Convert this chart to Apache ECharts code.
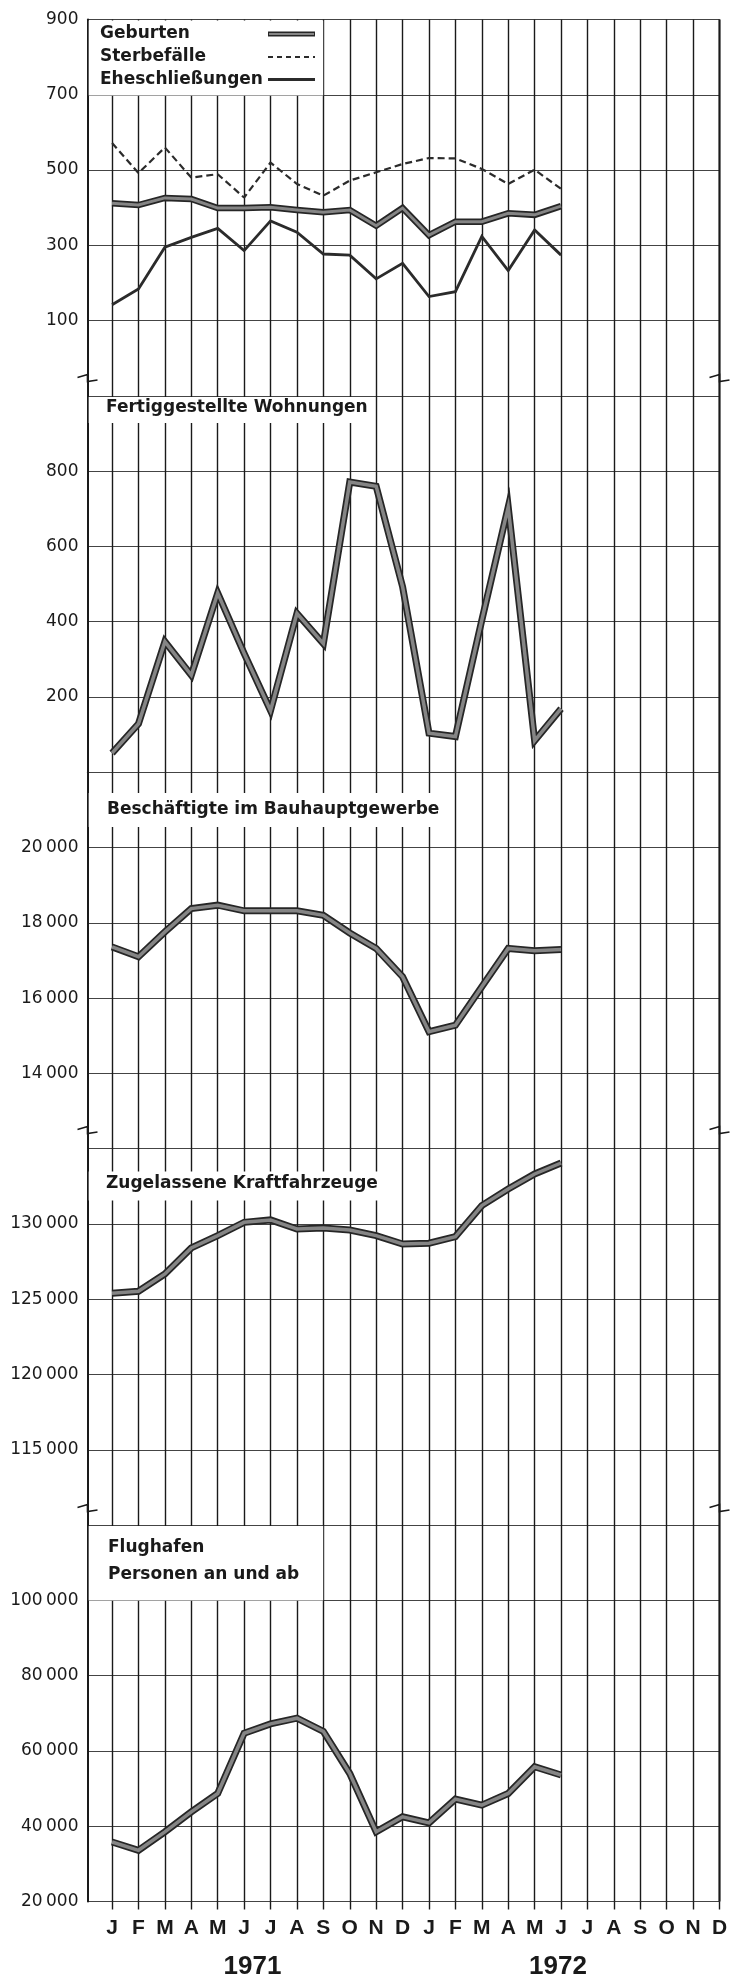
<!DOCTYPE html>
<html>
<head>
<meta charset="utf-8">
<title>Monatszahlen 1971/1972</title>
<script src="https://cdn.jsdelivr.net/npm/echarts@6/dist/echarts.min.js"></script>
<style>
  html, body { margin: 0; padding: 0; background: #fff; }
  #chart { width: 738px; height: 1982px; }
</style>
</head>
<body>
<div id="chart"></div>
<script>
// Monate Jan 1971 - Dez 1972
const monthLabels = ['J','F','M','A','M','J','J','A','S','O','N','D','J','F','M','A','M','J','J','A','S','O','N','D']
const years = ['1971', '1972']

// Werte Jan 1971 - Jun 1972
const geburten = [412, 407, 426, 423, 399, 399, 401, 394, 388, 394, 352, 399, 327, 363, 363, 385, 381, 404]
const sterbefaelle = [572, 492, 560, 480, 489, 427, 520, 463, 432, 472, 494, 516, 532, 531, 503, 463, 501, 450]
const eheschliessungen = [142, 184, 295, 321, 345, 286, 365, 335, 277, 274, 211, 252, 164, 177, 324, 233, 341, 274]
const wohnungen = [51, 129, 347, 258, 476, 316, 164, 422, 342, 771, 760, 493, 104, 95, 404, 705, 84, 169]
const beschaeftigte = [17360, 17100, 17760, 18380, 18470, 18320, 18320, 18320, 18200, 17730, 17320, 16570, 15110, 15280, 16300, 17320, 17260, 17290]
const kraftfahrzeuge = [125400, 125530, 126680, 128410, 129230, 130110, 130270, 129670, 129740, 129600, 129230, 128670, 128720, 129160, 131220, 132320, 133320, 134050]
const flughafen = [35800, 33600, 38500, 43800, 48700, 64700, 67200, 68700, 65200, 54000, 38500, 42500, 40900, 47200, 45600, 48700, 55800, 53600]

// Gitterlinien und Beschriftungen der y-Achsen
const ticks1 = [-100, 100, 300, 500, 700, 900]
const labels1 = [100, 300, 500, 700, 900]
const ticks2 = [0, 200, 400, 600, 800, 1000]
const labels2 = [200, 400, 600, 800]
const ticks3 = [12000, 14000, 16000, 18000, 20000, 22000]
const labels3 = [14000, 16000, 18000, 20000]
const ticks4 = [110000, 115000, 120000, 125000, 130000, 135000]
const labels4 = [115000, 120000, 125000, 130000]
const ticks5 = [20000, 40000, 60000, 80000, 100000, 120000]
const labels5 = [20000, 40000, 60000, 80000, 100000]

const chart = echarts.init(document.getElementById('chart'))

const TOP = 19.5
const H = 376.4
const LEFT = 87.5
const WIDTH = 632
const XMIN = -0.93
const INK = '#1a1a1a'

const panels = [
  { ticks: ticks1, labels: labels1 },
  { ticks: ticks2, labels: labels2 },
  { ticks: ticks3, labels: labels3 },
  { ticks: ticks4, labels: labels4 },
  { ticks: ticks5, labels: labels5 }
]
const monthIdx = monthLabels.map((m, i) => i)

function fmt(v) {
  const s = String(v)
  return s.length > 4 ? s.slice(0, -3) + '\u2009' + s.slice(-3) : s
}
function pts(arr) {
  return arr.map((v, i) => [i, v])
}
// dicke Linie mit dunklem Rand
function outlined(arr, k, w) {
  return [
    { type: 'line', xAxisIndex: k, yAxisIndex: k, data: pts(arr), symbol: 'none', silent: true, z: 3,
      lineStyle: { color: '#262626', width: w, join: 'miter' } },
    { type: 'line', xAxisIndex: k, yAxisIndex: k, data: pts(arr), symbol: 'none', silent: true, z: 4,
      lineStyle: { color: '#858585', width: w - 3.5, join: 'miter' } }
  ]
}

const grid = panels.map((p, k) => ({ left: LEFT, width: WIDTH, top: TOP + k * H, height: H }))

const xAxis = panels.map((p, k) => ({
  gridIndex: k, type: 'value', min: XMIN, max: 23,
  axisLine: { show: false },
  axisTick: { show: k === 4, customValues: monthIdx, length: 8, lineStyle: { color: INK, width: 1.4 } },
  axisLabel: { show: k === 4, customValues: monthIdx, formatter: v => monthLabels[Math.round(v)], margin: 16,
    fontFamily: 'Liberation Sans', fontWeight: 'bold', fontSize: 21, color: INK },
  splitLine: { show: true, lineStyle: { color: INK, width: 1.4 } }
}))

const yAxis = panels.map((p, k) => ({
  gridIndex: k, type: 'value', min: p.ticks[0], max: p.ticks[p.ticks.length - 1],
  axisLine: { show: true, onZero: false, lineStyle: { color: INK, width: 2 } },
  axisTick: { show: false, customValues: p.ticks },
  axisLabel: { customValues: p.labels, formatter: fmt, margin: 9, fontFamily: 'DejaVu Sans', fontSize: 17, color: INK },
  splitLine: { show: true, lineStyle: { color: '#444', width: 1.2 } }
}))

const series = [
  ...outlined(geburten, 0, 6.5),
  { type: 'line', name: 'Sterbefälle', xAxisIndex: 0, yAxisIndex: 0, data: pts(sterbefaelle), symbol: 'none', silent: true, z: 3,
    lineStyle: { color: '#2b2b2b', width: 2.2, type: [7, 4] } },
  { type: 'line', name: 'Eheschließungen', xAxisIndex: 0, yAxisIndex: 0, data: pts(eheschliessungen), symbol: 'none', silent: true, z: 3,
    lineStyle: { color: '#2b2b2b', width: 2.8, join: 'miter' } },
  ...outlined(wohnungen, 1, 7),
  ...outlined(beschaeftigte, 2, 7),
  ...outlined(kraftfahrzeuge, 3, 7),
  ...outlined(flughafen, 4, 7)
]

// weiße Felder hinter den Überschriften
const boxes = [
  [LEFT + 1.2, TOP + 1, 234.5, 75],
  [LEFT + 1.2, TOP + H + 1, 283, 26],
  [LEFT + 1.2, 793, 359, 34],
  [LEFT + 1.2, 1171.5, 300, 29],
  [LEFT + 1.2, TOP + 4 * H + 1, 234.5, 74.5]
]
const txt = (s, x, y, size, weight, align) => ({
  type: 'text', x: x, y: y, z: 11, silent: true,
  style: { text: s, fill: INK, font: (weight || 'bold') + ' ' + size + 'px "DejaVu Sans"',
    textAlign: align || 'left', textVerticalAlign: 'middle', align: align || 'left', verticalAlign: 'middle' }
})
const seg = (x1, y1, x2, y2, stroke, w, dash) => ({
  type: 'line', z: 12, silent: true, shape: { x1, y1, x2, y2 },
  style: { stroke, lineWidth: w, lineDash: dash || null }
})
const zig = (x, y) => ({
  type: 'polyline', z: 12, silent: true,
  shape: { points: [[x - 10, y - 0.5], [x, y - 3.5], [x, y + 3.5], [x + 10, y + 2]] },
  style: { stroke: INK, lineWidth: 1.6, fill: null }
})

const graphic = [
  ...boxes.map(b => ({ type: 'rect', z: 10, silent: true, shape: { x: b[0], y: b[1], width: b[2], height: b[3] }, style: { fill: '#fff' } })),
  txt('Geburten', 100, 34, 17),
  txt('Sterbefälle', 100, 57, 17),
  txt('Eheschließungen', 100, 79.5, 17),
  seg(268, 34, 315, 34, '#262626', 5),
  seg(269, 34, 314, 34, '#858585', 2),
  seg(268, 57, 315, 57, '#2b2b2b', 2, [5, 4]),
  seg(268, 79.5, 315, 79.5, '#2b2b2b', 3),
  txt('Fertiggestellte Wohnungen', 106, 407.5, 17),
  txt('Beschäftigte im Bauhauptgewerbe', 107, 810, 17),
  txt('Zugelassene Kraftfahrzeuge', 106, 1184, 17),
  txt('Flughafen', 108, 1547.5, 17),
  txt('Personen an und ab', 108, 1575, 17),
  seg(LEFT + WIDTH, TOP, LEFT + WIDTH, TOP + 5 * H, INK, 2),
  zig(LEFT, 378), zig(LEFT + WIDTH, 378),
  zig(LEFT, 1130), zig(LEFT + WIDTH, 1130),
  zig(LEFT, 1508), zig(LEFT + WIDTH, 1508),
  { type: 'text', x: 252.5, y: 1967, z: 11, silent: true,
    style: { text: years[0], fill: INK, font: 'bold 26px "Liberation Sans"', textAlign: 'center', align: 'center', textVerticalAlign: 'middle', verticalAlign: 'middle' } },
  { type: 'text', x: 558, y: 1967, z: 11, silent: true,
    style: { text: years[1], fill: INK, font: 'bold 26px "Liberation Sans"', textAlign: 'center', align: 'center', textVerticalAlign: 'middle', verticalAlign: 'middle' } }
]

chart.setOption({
  animation: false,
  backgroundColor: '#fff',
  grid: grid,
  xAxis: xAxis,
  yAxis: yAxis,
  series: series,
  graphic: graphic
})

window.addEventListener('resize', () => chart.resize())
</script>
</body>
</html>
